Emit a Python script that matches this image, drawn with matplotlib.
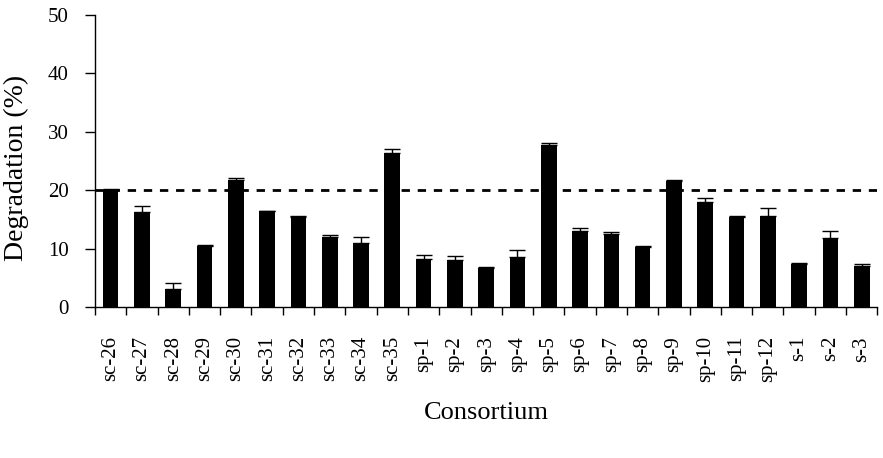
import matplotlib
matplotlib.use('Agg')
import matplotlib.pyplot as plt
import numpy as np

# consortium degradation data
consortia = ['sc-26', 'sc-27', 'sc-28', 'sc-29', 'sc-30', 'sc-31', 'sc-32', 'sc-33', 'sc-34', 'sc-35',
             'sp-1', 'sp-2', 'sp-3', 'sp-4', 'sp-5', 'sp-6', 'sp-7', 'sp-8', 'sp-9', 'sp-10',
             'sp-11', 'sp-12', 's-1', 's-2', 's-3']
degradation = [20.0, 16.2, 3.1, 10.4, 21.8, 16.4, 15.4, 12.0, 10.9, 26.3,
               8.2, 8.1, 6.6, 8.5, 27.8, 13.0, 12.5, 10.3, 21.6, 18.0,
               15.4, 15.6, 7.4, 11.8, 7.0]
err_up = [0.2, 1.1, 1.0, 0.2, 0.3, 0.1, 0.1, 0.3, 1.0, 0.7,
          0.7, 0.6, 0.2, 1.3, 0.3, 0.5, 0.3, 0.2, 0.1, 0.6,
          0.1, 1.4, 0.2, 1.2, 0.3]
threshold = 20

plt.rcParams['font.family'] = ['Liberation Serif', 'DejaVu Serif']

fig = plt.figure(figsize=(8.83, 4.58), dpi=100)
ax = fig.add_axes([0.1076, 0.33, 0.886, 0.637])

x = np.arange(len(consortia))
ax.bar(x, degradation, width=0.5, color='black', zorder=3)
ax.errorbar(x, degradation, yerr=[np.zeros(len(x)), err_up], fmt='none',
            ecolor='black', elinewidth=1, capsize=6, capthick=1, zorder=3)

ax.axhline(threshold, color='black', lw=2, dashes=(3, 2.8), zorder=2)

ax.set_xlim(-0.5, len(consortia) - 0.5)
ax.set_ylim(0, 50)
ax.set_yticks([0, 10, 20, 30, 40, 50])
ax.tick_params(axis='y', direction='out', length=7, width=1, labelsize=15, pad=12)

# labels at bar centres, tick marks at category boundaries
ax.set_xticks(x)
ax.set_xticklabels(consortia, rotation=90, fontsize=15)
ax.tick_params(axis='x', which='major', length=0, pad=21)
ax.set_xticks(np.arange(len(consortia) + 1) - 0.5, minor=True)
ax.tick_params(axis='x', which='minor', direction='out', length=6, width=1)

for s in ['top', 'right']:
    ax.spines[s].set_visible(False)
ax.spines['left'].set_linewidth(1)
ax.spines['bottom'].set_linewidth(1)

ax.set_xlabel('Consortium', fontsize=19)
ax.xaxis.set_label_coords(0.5, -0.325)
ax.set_ylabel('Degradation (%)', fontsize=20)
ax.yaxis.set_label_coords(-0.084, 0.475)

fig.savefig('out.png', dpi=100)
